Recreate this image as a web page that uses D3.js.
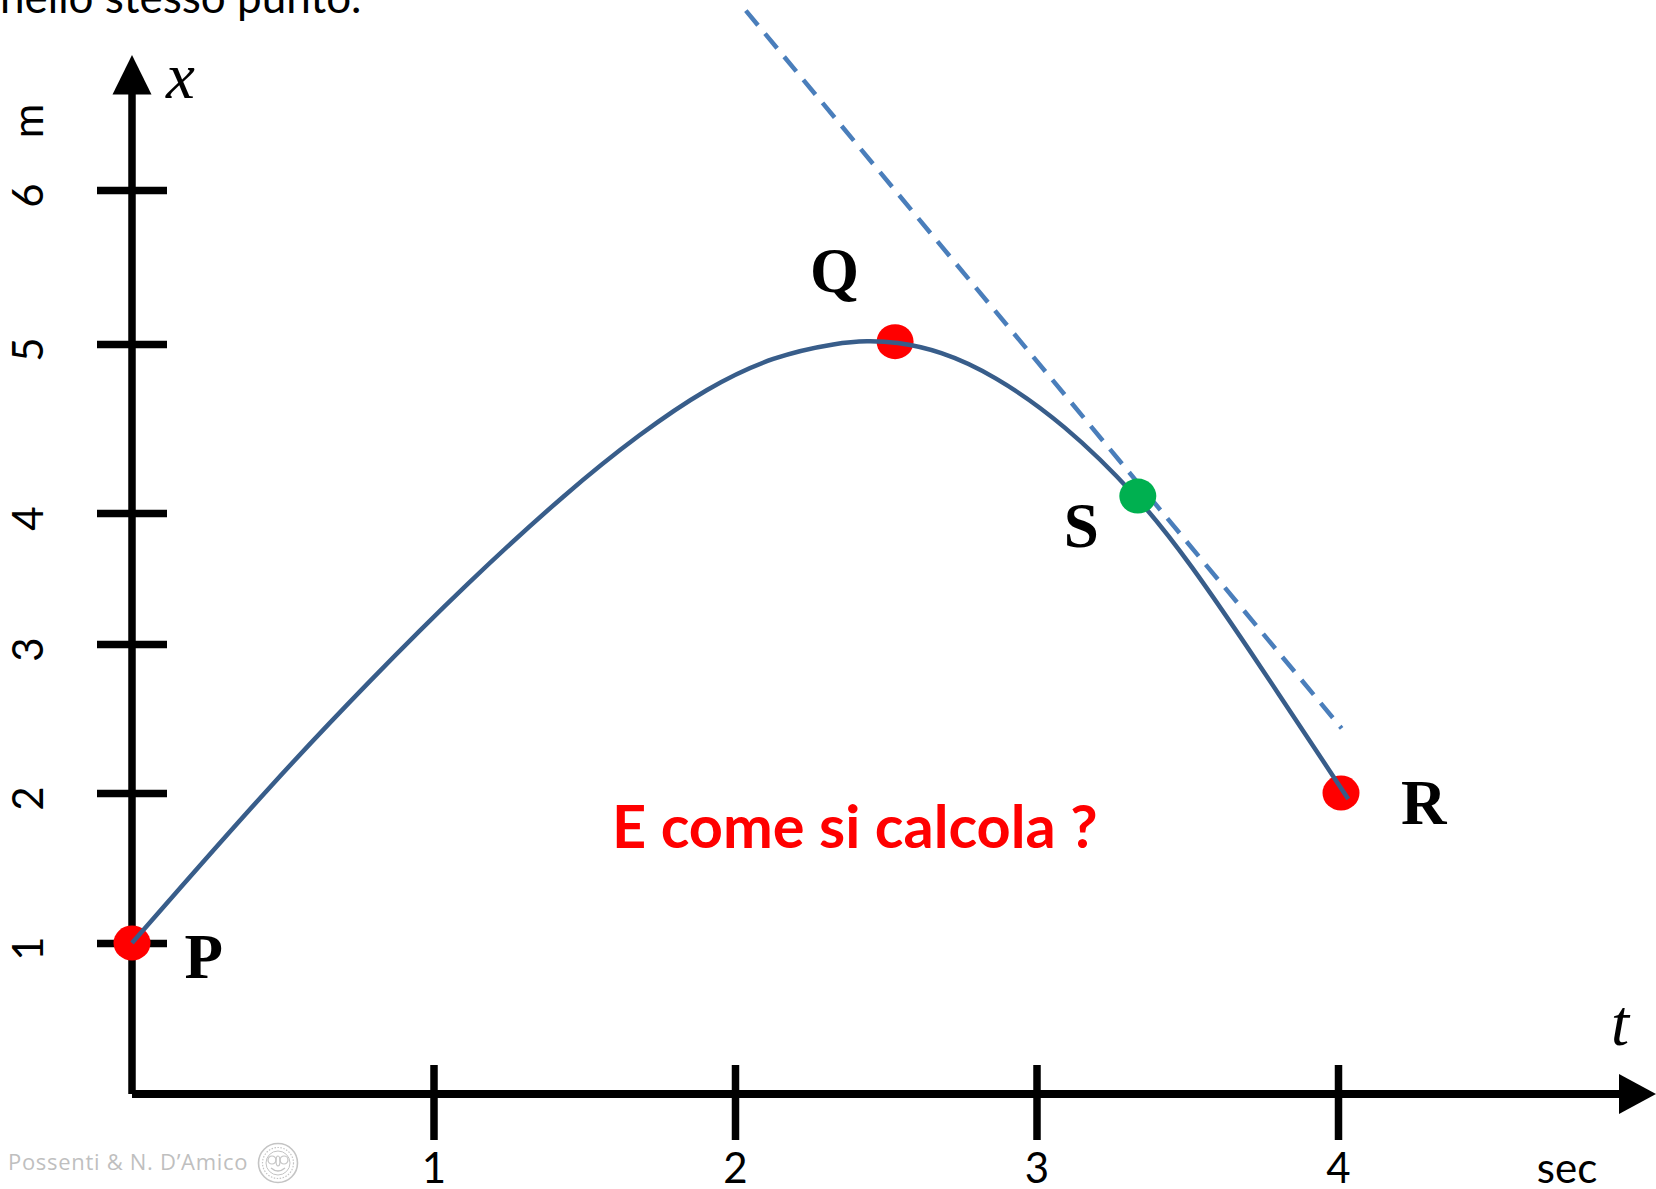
<!DOCTYPE html>
<html>
<head>
<meta charset="utf-8">
<script src="https://cdn.jsdelivr.net/npm/d3@7"></script>
<style>
  html, body { margin: 0; padding: 0; background: #fff; overflow: hidden; }
  svg { display: block; }
</style>
</head>
<body>
<svg id="chart" width="1656" height="1189"></svg>
<script>
// Time axis ticks (sec)
const tTicks = [1, 2, 3, 4];
// Position axis ticks (m)
const xTicks = [1, 2, 3, 4, 5, 6];

// Trajectory x(t), sampled along the curve
const curveT = [0, 0.126, 0.454, 0.786, 1.114, 1.446, 1.685, 1.906, 2.127, 2.348, 2.437, 2.531, 2.68, 2.856, 3.091, 3.336, 3.509, 3.73, 4.034];
const curveX = [1, 1.29, 2.04, 2.75, 3.47, 4.13, 4.47, 4.74, 4.93, 5.01, 5.02, 5.015, 4.96, 4.82, 4.53, 4.1, 3.62, 2.89, 1.96];

// Marked instants on the trajectory
const pointNames = ["P", "Q", "S", "R"];
const pointT = [0, 2.531, 3.336, 4.01];
const pointX = [1, 5.015, 4.1, 2];

// Tangent line at S (two end points)
const tangentT = [2.036, 4.012];
const tangentX = [7.165, 2.434];

// ---- styling ----
const RED = "#ff0000", GREEN = "#00b050";
const pointFill = { P: RED, Q: RED, S: GREEN, R: RED };
const pointOnTop = { P: false, Q: false, S: true, R: false };
// label offsets from each dot (px)
const labelOffset = { P: [52.5, 35], Q: [-85, -50], S: [-74, 51], R: [60, 31] };
const SANS = "Lato, 'Open Sans', sans-serif";
const SERIF = "'Liberation Serif', 'Times New Roman', serif";

const svg = d3.select("#chart");

// Scales: time is uniform, the position axis follows its drawn tick marks
const tScale = d3.scaleLinear().domain([0, 4]).range([132, 1338]);
const xScale = d3.scaleLinear()
  .domain([0, 1, 2, 3, 4, 5, 6])
  .range([1094, 943, 793, 644, 513, 344, 190]);

const AX = 7.5; // axis stroke width
const x0 = tScale(0), y0 = xScale(0);

// Heading text (cut by the top edge)
svg.append("text")
  .attr("x", 0).attr("y", 13)
  .attr("font-family", SANS).attr("font-size", 44).attr("fill", "#000")
  .text("nello stesso punto.");

// ---- axes ----
const axes = svg.append("g");
// vertical axis
axes.append("line")
  .attr("x1", x0).attr("x2", x0).attr("y1", 92).attr("y2", y0)
  .attr("stroke", "#000").attr("stroke-width", AX);
axes.append("path")
  .attr("d", `M${x0},55 L${x0 - 19.5},94.5 L${x0 + 19.5},94.5 Z`)
  .attr("fill", "#000");
// horizontal axis
axes.append("line")
  .attr("x1", x0).attr("x2", 1622).attr("y1", y0).attr("y2", y0)
  .attr("stroke", "#000").attr("stroke-width", AX + 0.5);
axes.append("path")
  .attr("d", `M1656,${y0} L1619,${y0 - 20} L1619,${y0 + 20} Z`)
  .attr("fill", "#000");

// time axis ticks and labels
const tAxis = d3.axisBottom(tScale).tickValues(tTicks).tickSize(0).tickFormat(d3.format("d"));
const gT = svg.append("g").attr("transform", `translate(0,${y0})`).call(tAxis);
gT.select(".domain").remove();
gT.selectAll(".tick line")
  .attr("y1", -29).attr("y2", 46)
  .attr("stroke", "#000").attr("stroke-width", 7.5);
gT.selectAll(".tick text")
  .attr("y", 89).attr("dy", null)
  .attr("font-family", SANS).attr("font-size", 42).attr("fill", "#000");

// position axis ticks and labels
const xAxis = d3.axisLeft(xScale).tickValues(xTicks).tickSize(0).tickFormat(d3.format("d"));
const gX = svg.append("g").attr("transform", `translate(${x0},0)`).call(xAxis);
gX.select(".domain").remove();
gX.selectAll(".tick line")
  .attr("x1", -35).attr("x2", 35)
  .attr("stroke", "#000").attr("stroke-width", 7.5);
gX.selectAll(".tick text")
  .attr("x", null).attr("dy", null)
  .attr("transform", "translate(-89,5) rotate(-90)")
  .attr("text-anchor", "middle")
  .attr("font-family", SANS).attr("font-size", 42).attr("fill", "#000");

// unit labels
svg.append("text")
  .attr("transform", `translate(${x0 - 89},121) rotate(-90)`)
  .attr("text-anchor", "middle")
  .attr("font-family", SANS).attr("font-size", 42).attr("fill", "#000")
  .text("m");
svg.append("text")
  .attr("x", 1567).attr("y", 1183).attr("text-anchor", "middle")
  .attr("font-family", SANS).attr("font-size", 42).attr("fill", "#000")
  .text("sec");

// axis names
svg.append("text")
  .attr("x", 166).attr("y", 98)
  .attr("font-family", SERIF).attr("font-style", "italic").attr("font-size", 65)
  .text("x");
svg.append("text")
  .attr("x", 1611).attr("y", 1045)
  .attr("font-family", SERIF).attr("font-style", "italic").attr("font-size", 65)
  .text("t");

const pts = pointNames.map((n, i) => ({ name: n, t: pointT[i], x: pointX[i] }));
function drawDots(sel) {
  sel.selectAll("ellipse")
    .data(d => d).join("ellipse")
    .attr("cx", d => tScale(d.t))
    .attr("cy", d => xScale(d.x))
    .attr("rx", 18.5).attr("ry", 17.5)
    .attr("fill", d => pointFill[d.name]);
}

// red dots sit beneath the curve
svg.append("g").datum(pts.filter(d => !pointOnTop[d.name])).call(drawDots);

// ---- tangent at S ----
const tangent = tangentT.map((t, i) => [t, tangentX[i]]);
svg.append("path")
  .datum(tangent)
  .attr("d", d3.line().x(d => tScale(d[0])).y(d => xScale(d[1])))
  .attr("fill", "none")
  .attr("stroke", "#4a7ebb")
  .attr("stroke-width", 4.5)
  .attr("stroke-dasharray", "19,11");

// ---- trajectory ----
const traj = curveT.map((t, i) => [t, curveX[i]]);
svg.append("path")
  .datum(traj)
  .attr("d", d3.line()
    .x(d => tScale(d[0])).y(d => xScale(d[1]))
    .curve(d3.curveBasis))
  .attr("fill", "none")
  .attr("stroke", "#385d8a")
  .attr("stroke-width", 4.5)
  .attr("stroke-linecap", "butt");

// the green dot covers the curve and the tangent
svg.append("g").datum(pts.filter(d => pointOnTop[d.name])).call(drawDots);

svg.append("g").selectAll("text")
  .data(pts).join("text")
  .attr("x", d => tScale(d.t) + labelOffset[d.name][0])
  .attr("y", d => xScale(d.x) + labelOffset[d.name][1])
  .attr("font-family", SERIF).attr("font-weight", "bold").attr("font-size", 63)
  .attr("fill", "#000")
  .text(d => d.name);

// ---- question ----
svg.append("text")
  .attr("x", 612).attr("y", 848)
  .attr("font-family", SANS).attr("font-weight", "bold").attr("font-size", 59.5)
  .attr("fill", RED)
  .text("E come si calcola ?");

// ---- credit and seal ----
svg.append("text")
  .attr("x", 8).attr("y", 1170)
  .attr("font-family", "'Open Sans', Lato, sans-serif").attr("font-size", 22)
  .attr("letter-spacing", 0.7).attr("fill", "#bfbfbf")
  .text("Possenti & N. D\u2019Amico");

const seal = svg.append("g").attr("transform", "translate(278,1163)")
  .attr("fill", "none").attr("stroke", "#c4c4c4");
seal.append("circle").attr("r", 19.5).attr("stroke-width", 1.6);
seal.append("circle").attr("r", 15.5).attr("stroke-width", 1.2).attr("stroke-dasharray", "1.5,1.5");
seal.append("circle").attr("r", 12).attr("stroke-width", 1);
seal.append("circle").attr("cx", -6).attr("cy", -3).attr("r", 4).attr("stroke-width", 1.2);
seal.append("circle").attr("cx", 6).attr("cy", -3).attr("r", 4).attr("stroke-width", 1.2);
seal.append("ellipse").attr("cx", 0).attr("cy", -2).attr("rx", 2).attr("ry", 5).attr("stroke-width", 1.2);
seal.append("path").attr("d", "M-7,5 Q0,11 7,5").attr("stroke-width", 1.4);
</script>
</body>
</html>
